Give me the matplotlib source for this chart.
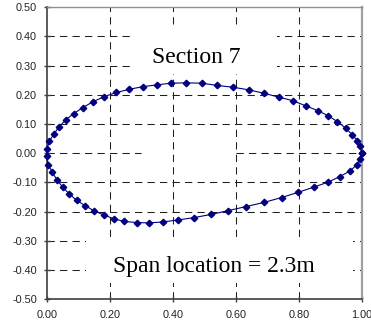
import matplotlib
matplotlib.use("Agg")
import matplotlib.pyplot as plt
from matplotlib.patches import Rectangle
import numpy as np

# section 7 profile (upper surface TE->LE, then lower LE->TE)
x_upper = [1.000, 0.995, 0.986, 0.970, 0.949, 0.923, 0.894, 0.860, 0.823, 0.781,
           0.737, 0.691, 0.642, 0.592, 0.542, 0.492, 0.443, 0.394, 0.349, 0.305,
           0.262, 0.221, 0.183, 0.148, 0.114, 0.085, 0.060, 0.039, 0.023, 0.008,
           0.001, 0.000]
y_upper = [0.000, 0.023, 0.043, 0.063, 0.086, 0.108, 0.128, 0.146, 0.162, 0.180,
           0.192, 0.205, 0.217, 0.226, 0.232, 0.240, 0.241, 0.240, 0.234, 0.228,
           0.219, 0.208, 0.194, 0.177, 0.156, 0.135, 0.114, 0.090, 0.066, 0.041,
           0.015, -0.008]
x_lower = [0.005, 0.018, 0.032, 0.051, 0.071, 0.095, 0.122, 0.151, 0.182, 0.213,
           0.246, 0.286, 0.325, 0.368, 0.416, 0.467, 0.522, 0.576, 0.633, 0.689,
           0.746, 0.799, 0.849, 0.894, 0.931, 0.963, 0.984, 0.995, 1.000]
y_lower = [-0.040, -0.066, -0.091, -0.117, -0.139, -0.162, -0.180, -0.198, -0.212, -0.225,
           -0.234, -0.238, -0.239, -0.236, -0.229, -0.221, -0.210, -0.197, -0.183, -0.169,
           -0.152, -0.134, -0.116, -0.099, -0.080, -0.061, -0.040, -0.021, 0.000]

xticks = [0.0, 0.2, 0.4, 0.6, 0.8, 1.0]
yticks = [-0.5, -0.4, -0.3, -0.2, -0.1, 0.0, 0.1, 0.2, 0.3, 0.4, 0.5]

x = x_upper + x_lower
y = y_upper + y_lower

fig = plt.figure(figsize=(3.71, 3.27), dpi=100)
ax = fig.add_axes([0.126, 0.0856, 0.849, 0.892])
ax.set_xlim(0, 1)
ax.set_ylim(-0.5, 0.5)

dash = (0, (7, 5))
# vertical grid
for xv in xticks[1:-1]:
    ax.axvline(xv, color="#202020", lw=0.75, ls=dash, zorder=1)
# horizontal grid, the zero line has a gap in the middle
for yv in yticks[1:-1]:
    if yv == 0.0:
        ax.axhline(yv, xmax=0.30, color="#202020", lw=0.75, ls=dash, zorder=1)
        ax.axhline(yv, xmin=0.60, color="#202020", lw=0.75, ls=dash, zorder=1)
    else:
        ax.axhline(yv, color="#202020", lw=0.75, ls=dash, zorder=1)

# white text boxes hide the grid
ax.add_patch(Rectangle((0.274, 0.77), 0.457, 0.161, transform=ax.transAxes,
                       facecolor="white", edgecolor="none", zorder=2))
ax.add_patch(Rectangle((0.125, 0.055), 0.847, 0.148, transform=ax.transAxes,
                       facecolor="white", edgecolor="none", zorder=2))

ax.plot(x, y, color="#000080", lw=0.8, marker="D", ms=3.3,
        markerfacecolor="#000080", markeredgecolor="#000080", zorder=3, clip_on=False)

ax.text(0.474, 0.81, "Section 7", transform=ax.transAxes, ha="center",
        va="baseline", fontsize=17, family="Liberation Serif", zorder=4)
ax.text(0.53, 0.093, "Span location = 2.3m", transform=ax.transAxes, ha="center",
        va="baseline", fontsize=17, family="Liberation Serif", zorder=4)

ax.set_xticks(xticks)
ax.set_yticks(yticks)
ax.set_xticklabels(["%.2f" % v for v in xticks])
ax.set_yticklabels(["%.2f" % v for v in yticks])
ax.tick_params(direction="inout", length=4, width=1, color="#404040",
               labelsize=7.8, labelcolor="#222222")
ax.tick_params(axis="y", pad=5)
ax.tick_params(axis="x", pad=6)
for lab in ax.get_xticklabels() + ax.get_yticklabels():
    lab.set_family("Liberation Sans")

ax.spines["left"].set_color("#404040")
ax.spines["bottom"].set_color("#404040")
ax.spines["left"].set_linewidth(1.2)
ax.spines["bottom"].set_linewidth(1.2)
ax.spines["top"].set_color("#909090")
ax.spines["top"].set_linewidth(1.0)
ax.spines["right"].set_color("#a0a0a0")
ax.spines["right"].set_linewidth(1.6)

fig.savefig("out.png", dpi=100)
